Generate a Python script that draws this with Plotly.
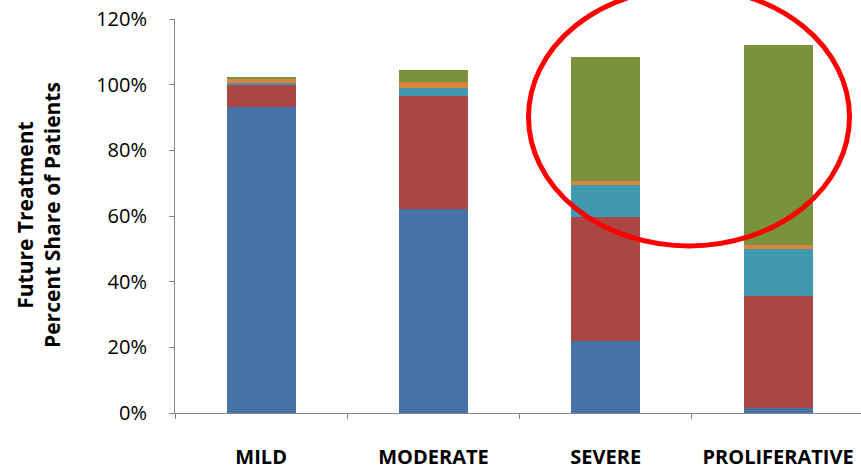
import plotly.graph_objects as go

categories = ["MILD", "MODERATE", "SEVERE", "PROLIFERATIVE"]
series_names = ["Series 1", "Series 2", "Series 3", "Series 4", "Series 5"]
s1_blue = [93.2, 62.1, 21.9, 1.6]
s2_red = [6.6, 34.6, 37.8, 33.9]
s3_teal = [0.8, 2.4, 9.7, 14.4]
s4_orange = [1.2, 1.8, 1.3, 1.3]
s5_green = [0.6, 3.7, 37.8, 60.8]
y_tick_vals = [0, 20, 40, 60, 80, 100, 120]
y_tick_text = ["0%", "20%", "40%", "60%", "80%", "100%", "120%"]

colors = ["#4672A8", "#AA4643", "#4298AF", "#DB843D", "#78933C"]
series = [s1_blue, s2_red, s3_teal, s4_orange, s5_green]

W, H = 861, 469
ML, MR, MT, MB = 175, 0, 19, 56
pw = W - ML - MR
ph = H - MT - MB

fig = go.Figure()
for name, vals, col in zip(series_names, series, colors):
    fig.add_trace(go.Bar(x=categories, y=vals, name=name,
                         marker=dict(color=col, line=dict(width=0))))

cat_w = 172.3  # pixel width of a category
x_end = -0.5 + pw / cat_w

def px_x(p):
    return (p - ML) / pw

def px_y(p):
    return (MT + ph - p) / ph

fig.update_layout(
    width=W, height=H,
    margin=dict(l=ML, r=MR, t=MT, b=MB),
    barmode="stack",
    bargap=0.6,
    showlegend=False,
    plot_bgcolor="white",
    paper_bgcolor="white",
    font=dict(family="Open Sans", color="black"),
    xaxis=dict(
        range=[-0.5, x_end],
        showline=True, linecolor="#868686", linewidth=1,
        ticks="outside", ticklen=5, tickcolor="#868686",
        tickson="boundaries",
        tickfont=dict(family="Open Sans", size=20, color="black", weight="bold"),
        ticklabelstandoff=26,
        showgrid=False, zeroline=False, automargin=False,
    ),
    yaxis=dict(
        range=[0, 120],
        tickvals=y_tick_vals, ticktext=y_tick_text,
        showline=True, linecolor="#868686", linewidth=1,
        ticks="outside", ticklen=5, tickcolor="#868686",
        tickfont=dict(family="Open Sans", size=20, color="black"),
        ticklabelstandoff=18,
        showgrid=False, zeroline=False, automargin=False,
    ),
    annotations=[dict(
        text="Future Treatment<br>Percent Share of Patients",
        xref="paper", yref="paper",
        x=px_x(38), y=px_y(215),
        xanchor="center", yanchor="middle",
        textangle=-90, showarrow=False,
        font=dict(family="Open Sans", size=21, color="black", weight="bold"),
    )],
    shapes=[dict(
        type="circle", xref="paper", yref="paper",
        x0=px_x(528.5), x1=px_x(849.5),
        y0=px_y(246), y1=px_y(-12),
        line=dict(color="#FF0000", width=5),
        layer="above",
    )],
)

fig.write_html(
    "out.html",
    config={"displayModeBar": False},
    post_script="document.body.style.margin='0';document.body.style.padding='0';",
)
